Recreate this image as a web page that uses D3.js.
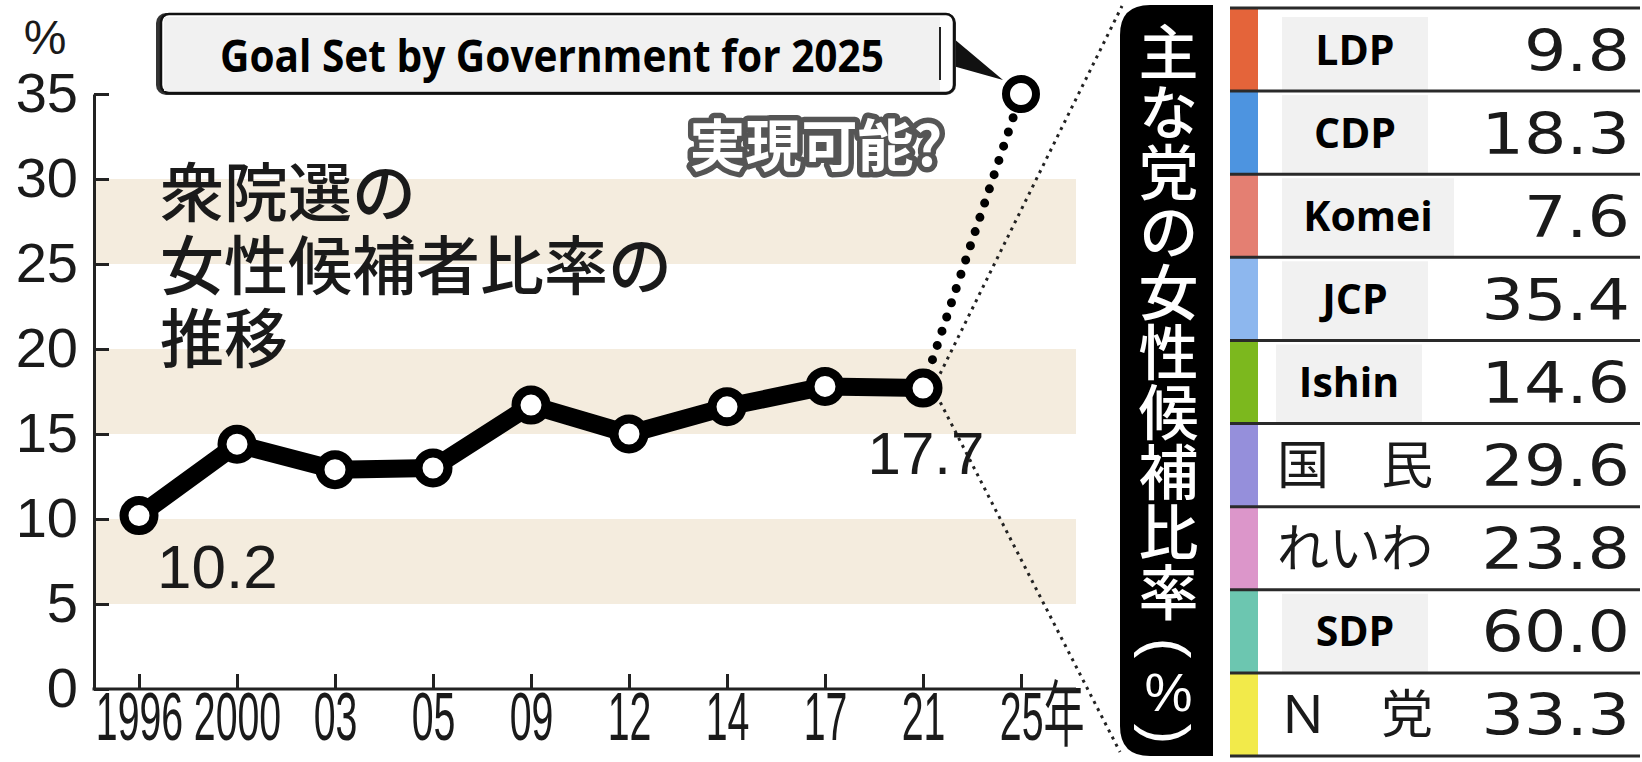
<!DOCTYPE html>
<html lang="ja">
<head>
    <meta charset="UTF-8">
    <title>衆院選の女性候補者比率の推移</title>
    <style>
        body { margin: 0; background: #fff; }
        svg { display: block; }
        .num { font-family: "Liberation Sans", Arial, sans-serif; fill: #1a1a1a; }
        .jp { font-family: "Noto Sans CJK JP", sans-serif; }
        .en { font-family: "Open Sans", "Noto Sans", sans-serif; font-weight: 700; fill: #000; }
        .val { font-family: "DejaVu Sans", sans-serif; fill: #1a1a1a; }
    </style>
</head>
<body>
<script src="https://cdn.jsdelivr.net/npm/d3@7/dist/d3.min.js"></script>
<script>
    // line chart data
    const years = ["1996", "2000", "03", "05", "09", "12", "14", "17", "21", "25"];
    const ratios = [10.2, 14.4, 12.9, 13.0, 16.7, 15.0, 16.6, 17.8, 17.7];
    const goalValue = 35;
    const yTicks = [0, 5, 10, 15, 20, 25, 30, 35];
    const bands = [[5, 10], [15, 20], [25, 30]];

    // party table data
    const parties = ["LDP", "CDP", "Komei", "JCP", "Ishin", "国　民", "れいわ", "SDP", "Ｎ　党"];
    const partyRatios = [9.8, 18.3, 7.6, 35.4, 14.6, 29.6, 23.8, 60.0, 33.3];
    const partyColors = ["#e4643a", "#4d94e0", "#e47f72", "#8db7ee", "#7cb81e", "#958fdb", "#dc96ca", "#6cc6b0", "#f2ea4a"];
    const englishName = [true, true, true, true, true, false, false, true, false];

    const W = 1642, H = 762;
    const svg = d3.select("body").append("svg").attr("width", W).attr("height", H);

    const axisX0 = 94, axisX1 = 1076;
    const x = d3.scalePoint().domain(years).range([139, 1021]);
    const y = d3.scaleLinear().domain([0, 35]).range([689, 94]);

    // beige bands
    svg.selectAll(".band").data(bands).enter().append("rect")
        .attr("x", axisX0).attr("width", axisX1 - axisX0)
        .attr("y", d => y(d[1])).attr("height", d => y(d[0]) - y(d[1]))
        .attr("fill", "#f4ecde");

    // title (one text block, three lines)
    const titleLines = ["衆院選の", "女性候補者比率の", "推移"];
    svg.append("text").attr("class", "jp")
        .attr("font-size", 64).attr("font-weight", 500).attr("fill", "#1a1a1a")
        .selectAll("tspan").data(titleLines).enter().append("tspan")
        .attr("x", 160).attr("y", (d, i) => 216 + i * 73)
        .text(d => d);

    // y axis
    const yAxis = svg.append("g").attr("transform", `translate(${axisX0},0)`)
        .call(d3.axisLeft(y).tickValues(yTicks).tickSizeInner(-15).tickSizeOuter(0).tickPadding(16));
    yAxis.select(".domain").attr("stroke", "#222").attr("stroke-width", 3);
    yAxis.selectAll(".tick line").attr("stroke", "#222").attr("stroke-width", 3);
    yAxis.selectAll(".tick text").attr("class", "num").attr("font-size", 56).attr("fill", "#1a1a1a");
    svg.append("text").attr("class", "num").attr("x", 45).attr("y", 54)
        .attr("text-anchor", "middle").attr("font-size", 48).text("%");

    // x axis
    const xAxis = svg.append("g").attr("transform", `translate(0,${y(0)})`)
        .call(d3.axisBottom(x).tickSizeInner(-15).tickSizeOuter(0).tickPadding(10));
    xAxis.select(".domain").remove();
    xAxis.selectAll(".tick line").attr("stroke", "#222").attr("stroke-width", 3);
    xAxis.selectAll(".tick text").attr("class", "num").attr("font-size", 69).attr("fill", "#1a1a1a")
        .attr("transform", "scale(0.57,1)").attr("dy", "0.6em");
    xAxis.selectAll(".tick text").filter(d => d === "25")
        .attr("text-anchor", "start").attr("x", -38)
        .append("tspan").attr("class", "jp").attr("font-size", 72).text("年");
    svg.append("line").attr("x1", axisX0 - 1.5).attr("x2", axisX1).attr("y1", y(0)).attr("y2", y(0))
        .attr("stroke", "#222").attr("stroke-width", 3);

    // zoom funnel dotted lines to the panel
    const last = ratios.length - 1;
    const px = x(years[last]), py = y(ratios[last]);
    [[1122, 6], [1120, 752]].forEach(p => {
        svg.append("line").attr("x1", px + 10).attr("y1", py).attr("x2", p[0]).attr("y2", p[1])
            .attr("stroke", "#222").attr("stroke-width", 3).attr("stroke-dasharray", "3 5");
    });

    // dotted line to goal
    svg.append("line")
        .attr("x1", px).attr("y1", py).attr("x2", x(years[last + 1])).attr("y2", y(goalValue))
        .attr("stroke", "#000").attr("stroke-width", 9).attr("stroke-linecap", "round")
        .attr("stroke-dasharray", "0 15");

    // main line
    const pts = ratios.map((v, i) => [x(years[i]), y(v)]);
    svg.append("path").attr("d", d3.line()(pts))
        .attr("fill", "none").attr("stroke", "#000").attr("stroke-width", 18).attr("stroke-linejoin", "round");
    svg.selectAll(".pt").data(pts).enter().append("circle")
        .attr("cx", d => d[0]).attr("cy", d => d[1]).attr("r", 15)
        .attr("fill", "#fff").attr("stroke", "#000").attr("stroke-width", 9);

    // goal point
    const gx = x(years[last + 1]), gy = y(goalValue);
    svg.append("circle").attr("cx", gx).attr("cy", gy).attr("r", 15)
        .attr("fill", "#fff").attr("stroke", "#000").attr("stroke-width", 8);

    // value labels
    svg.append("text").attr("class", "num").attr("x", pts[0][0] + 18).attr("y", pts[0][1] + 72)
        .attr("font-size", 62).text(ratios[0].toFixed(1));
    svg.append("text").attr("class", "num").attr("x", px + 3).attr("y", py + 86)
        .attr("text-anchor", "middle").attr("font-size", 60).text(ratios[last].toFixed(1));

    // goal callout box
    svg.append("polygon")
        .attr("points", `953,38 953,66 ${gx - 18},${gy - 14}`).attr("fill", "#111");
    svg.append("rect").attr("x", 156).attr("y", 13).attr("width", 800).attr("height", 82)
        .attr("rx", 10).attr("fill", "#333");
    svg.append("rect").attr("x", 161).attr("y", 14).attr("width", 793).attr("height", 79)
        .attr("rx", 8).attr("fill", "#fff").attr("stroke", "#111").attr("stroke-width", 2.5);
    svg.append("rect").attr("x", 164).attr("y", 17).attr("width", 776).attr("height", 74).attr("fill", "#f1f1f1");
    svg.append("line").attr("x1", 940).attr("x2", 940).attr("y1", 27).attr("y2", 80)
        .attr("stroke", "#222").attr("stroke-width", 2);
    svg.append("text").attr("class", "en").attr("x", 552).attr("y", 72)
        .attr("text-anchor", "middle").attr("font-size", 44)
        .attr("textLength", 664).attr("lengthAdjust", "spacingAndGlyphs")
        .text("Goal Set by Government for 2025");

    // 実現可能?
    svg.append("text").attr("class", "jp").attr("x", 816).attr("y", 166)
        .attr("text-anchor", "middle").attr("font-size", 56).attr("font-weight", 700)
        .attr("fill", "#fff").attr("stroke", "#555").attr("stroke-width", 11)
        .attr("stroke-linejoin", "round").attr("paint-order", "stroke")
        .text("実現可能?");

    // black vertical panel
    const panelX = 1120, panelW = 93, panelY = 5, panelH = 751, r = 30;
    svg.append("path").attr("fill", "#000")
        .attr("d", `M${panelX + panelW},${panelY} L${panelX + r},${panelY} Q${panelX},${panelY} ${panelX},${panelY + r}
                    L${panelX},${panelY + panelH - r} Q${panelX},${panelY + panelH} ${panelX + r},${panelY + panelH}
                    L${panelX + panelW},${panelY + panelH} Z`);
    const cxp = panelX + panelW / 2 + 2;
    svg.append("text").attr("class", "jp").attr("x", cxp).attr("y", 22)
        .style("writing-mode", "vertical-rl")
        .attr("font-size", 60).attr("font-weight", 500).attr("fill", "#fff")
        .text("主な党の女性候補比率");
    svg.append("text").attr("class", "num").attr("transform", `translate(${cxp},648) rotate(90)`)
        .attr("text-anchor", "middle").attr("dominant-baseline", "central")
        .attr("font-size", 62).style("fill", "#fff").text("(");
    svg.append("text").attr("class", "num").attr("x", cxp).attr("y", 692)
        .attr("text-anchor", "middle").attr("dominant-baseline", "central")
        .attr("font-size", 54).style("fill", "#fff").text("%");
    svg.append("text").attr("class", "num").attr("transform", `translate(${cxp},734) rotate(90)`)
        .attr("text-anchor", "middle").attr("dominant-baseline", "central")
        .attr("font-size", 62).style("fill", "#fff").text(")");

    // party table
    const row = d3.scaleBand().domain(d3.range(parties.length)).range([8, 756]).padding(0);
    const tX0 = 1230, tX1 = 1640, nameCx = 1355;
    const rows = svg.selectAll(".row").data(parties).enter().append("g")
        .attr("transform", (d, i) => `translate(0,${row(i)})`);
    rows.append("rect").attr("x", tX0).attr("width", 28).attr("height", row.bandwidth())
        .attr("fill", (d, i) => partyColors[i]);
    svg.selectAll(".rline").data(d3.range(parties.length + 1)).enter().append("line")
        .attr("x1", tX0).attr("x2", tX1)
        .attr("y1", i => i < parties.length ? row(i) : row(parties.length - 1) + row.bandwidth())
        .attr("y2", i => i < parties.length ? row(i) : row(parties.length - 1) + row.bandwidth())
        .attr("stroke", "#2a2a2a").attr("stroke-width", 3);

    rows.each(function (d, i) {
        const g = d3.select(this);
        const bh = row.bandwidth();
        if (englishName[i]) {
            const bw = d === "Komei" ? 172 : 146;
            const bx = i === 4 ? 1276 : 1282;
            g.append("rect").attr("x", bx).attr("y", i === 0 ? 9 : 4)
                .attr("width", bw).attr("height", i === 0 ? bh - 8 : bh - 3).attr("fill", "#f1f1f1");
            g.append("text").attr("class", "en").attr("x", bx + bw / 2).attr("y", bh / 2 + 15)
                .attr("text-anchor", "middle").attr("font-size", 41).text(d);
        } else {
            g.append("text").attr("class", "jp").attr("x", nameCx).attr("y", bh / 2 + 19)
                .attr("text-anchor", "middle").attr("font-size", 52).attr("fill", "#1a1a1a").text(d);
        }
        g.append("text").attr("class", "val")
            .attr("transform", `translate(1630,${bh / 2 + 21}) scale(1.17,1)`)
            .attr("text-anchor", "end").attr("font-size", 57).text(partyRatios[i].toFixed(1));
    });
</script>
</body>
</html>
